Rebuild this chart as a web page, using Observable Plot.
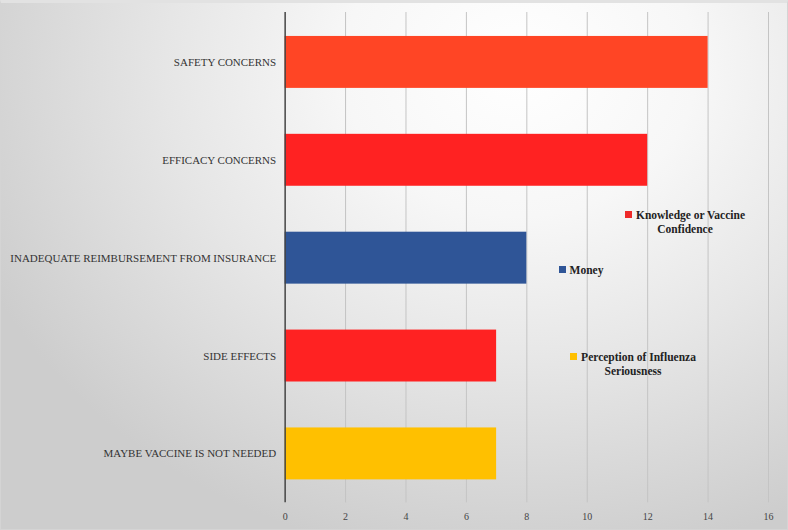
<!DOCTYPE html>
<html>
<head>
<meta charset="utf-8">
<script src="https://cdn.jsdelivr.net/npm/d3@7"></script>
<script src="https://cdn.jsdelivr.net/npm/@observablehq/plot@0.6"></script>
<style>
  html, body { margin: 0; padding: 0; }
  #wrap {
    position: relative; width: 788px; height: 530px; overflow: hidden;
    box-sizing: border-box; border: 1px solid #d4d4d4; border-top: 3px solid #e2e2e2;
    background: radial-gradient(ellipse 75% 95% at 66% 12%, #ffffff 0%, #f7f7f7 30%, #e6e6e6 60%, #cdcdcd 100%);
    font-family: "Liberation Serif", "Times New Roman", serif;
  }
  #chart { position: absolute; left: -1px; top: -3px; }
  .leg { position: absolute; font-weight: bold; font-size: 11.5px; color: #222; line-height: 14px; text-align: center; }
  .sw { display: inline-block; width: 7px; height: 7px; margin-right: 4px; vertical-align: 1px; }
</style>
</head>
<body>
<div id="wrap">
  <div id="chart"></div>
</div>
<script>
const categories = [
  "SAFETY CONCERNS",
  "EFFICACY CONCERNS",
  "INADEQUATE REIMBURSEMENT FROM INSURANCE",
  "SIDE EFFECTS",
  "MAYBE VACCINE IS NOT NEEDED"
];
const values = [14, 12, 8, 7, 7];
const groups = ["Knowledge or Vaccine Confidence", "Knowledge or Vaccine Confidence", "Money", "Knowledge or Vaccine Confidence", "Perception of Influenza Seriousness"];
const xTicks = [0, 2, 4, 6, 8, 10, 12, 14, 16];

const barColors = ["#FF4525", "#FF2222", "#2F5597", "#FF2222", "#FFC000"];
const legendColors = {"Knowledge or Vaccine Confidence": "#EE2A2A", "Money": "#2F5597", "Perception of Influenza Seriousness": "#FFC000"};

const data = categories.map((c, i) => ({category: c, value: values[i], group: groups[i]}));

const plot = Plot.plot({
  width: 788,
  height: 530,
  marginLeft: 285,
  marginRight: 19,
  marginTop: 12,
  marginBottom: 27,
  style: {background: "transparent", fontFamily: "'Liberation Serif', 'Times New Roman', serif", color: "#333"},
  x: {domain: [0, 16], ticks: xTicks, label: null},
  y: {domain: categories, paddingInner: 0.47, paddingOuter: 0.235, label: null},
  color: {domain: categories, range: barColors},
  marks: [
    Plot.ruleX(xTicks.filter(d => d > 0), {stroke: "#c4c4c4", strokeWidth: 1}),
    Plot.barX(data, {y: "category", x: "value", fill: "category"}),
    Plot.ruleX([0], {stroke: "#444", strokeWidth: 1.5}),
    Plot.axisX({ticks: xTicks, tickSize: 0, tickPadding: 10, fontSize: 10, label: null, fill: "#444"}),
    Plot.axisY({tickSize: 0, tickPadding: 9, fontSize: 11, label: null, fill: "#333"})
  ]
});
document.getElementById("chart").appendChild(plot);

// legend (HTML overlay inside plot area)
const legendItems = [
  {name: "Knowledge or Vaccine Confidence", lines: ["Knowledge or Vaccine", "Confidence"], left: 621, top: 205, w: 126},
  {name: "Money", lines: ["Money"], left: 555, top: 260, w: 50},
  {name: "Perception of Influenza Seriousness", lines: ["Perception of Influenza", "Seriousness"], left: 565, top: 347, w: 134}
];
const wrap = document.getElementById("wrap");
legendItems.forEach(it => {
  const d = document.createElement("div");
  d.className = "leg";
  d.style.left = it.left + "px";
  d.style.top = it.top + "px";
  d.style.width = it.w + "px";
  d.innerHTML = `<span class="sw" style="background:${legendColors[it.name]}"></span>${it.lines[0]}` + (it.lines[1] ? `<br>${it.lines[1]}` : "");
  wrap.appendChild(d);
});
</script>
</body>
</html>
